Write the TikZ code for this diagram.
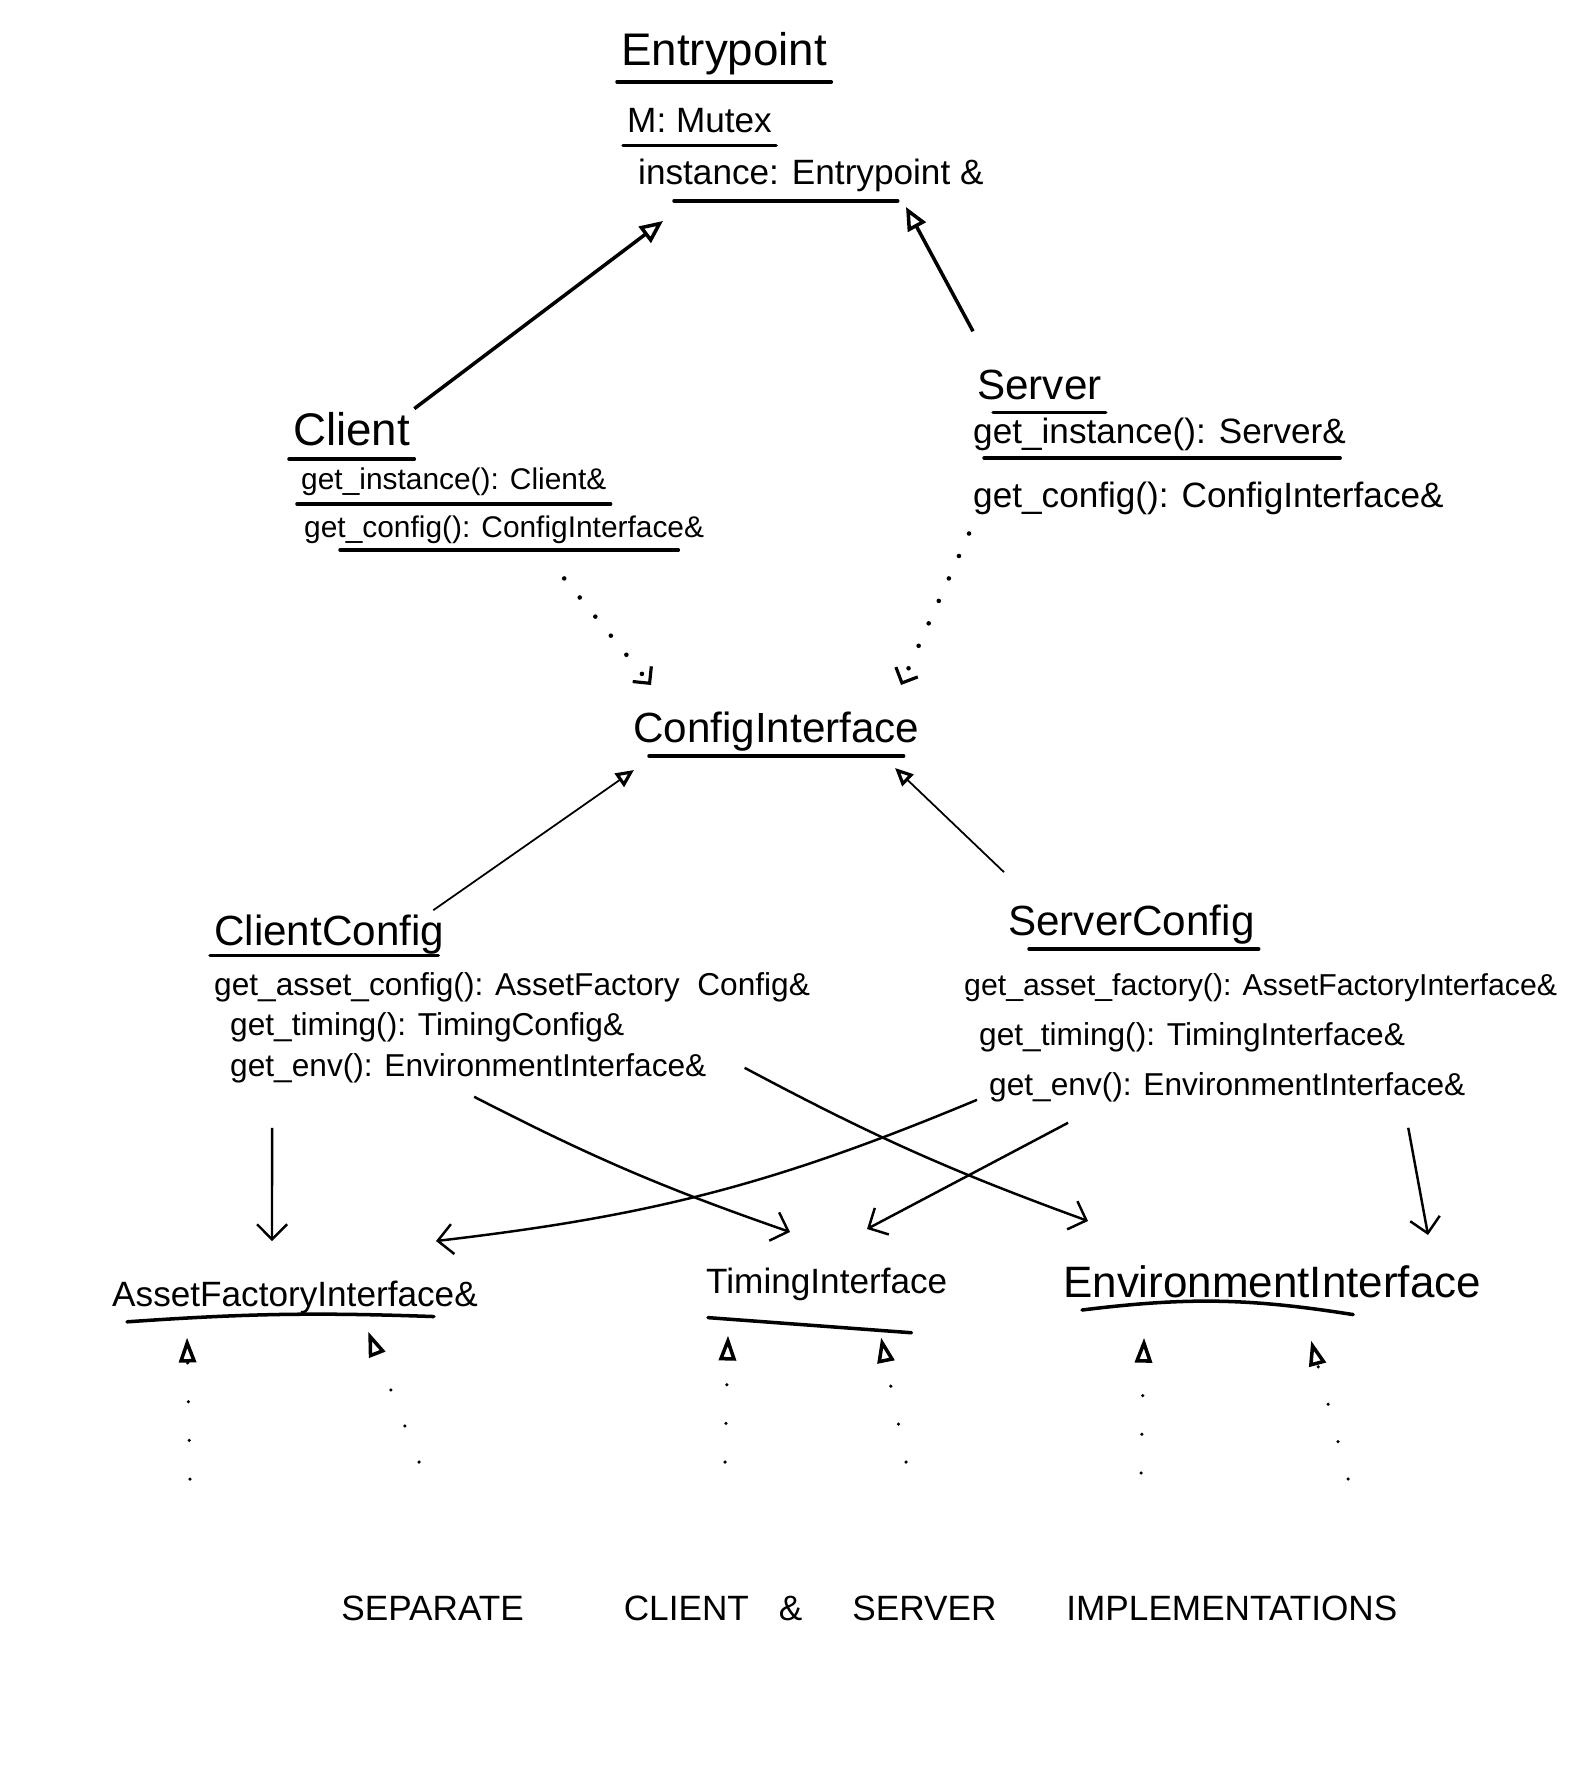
\documentclass[tikz,border=0pt]{standalone}
\usepackage{fontspec}
\setmainfont{Liberation Sans}
\usetikzlibrary{arrows.meta}

\begin{document}
\begin{tikzpicture}[
    x=0.01cm, y=-0.01cm,
    classname/.style={anchor=base west, inner sep=1pt, font=\fontsize{12}{14}\selectfont},
    member/.style={anchor=base west, inner sep=1pt, font=\fontsize{9}{11}\selectfont},
    uline/.style={line width=1pt, line cap=round},
    inherit/.style={-{Triangle[open, length=2.3mm, width=2mm, line width=1pt]}, line width=1pt},
    thininherit/.style={-{Triangle[open, length=1.8mm, width=1.6mm, line width=0.9pt]}, line width=0.5pt},
    uses/.style={-{Straight Barb[length=1.5mm, width=3mm]}, line width=0.7pt},
    depends/.style={-{Straight Barb[length=1.2mm, width=2.4mm, line width=0.9pt]}, line width=1.3pt, line cap=round, dash pattern=on 0pt off 7pt},
    realize/.style={-{Triangle[length=2.5mm, width=1.7mm, line width=1pt, fill=white]}, line width=1pt, line cap=round, dash pattern=on 0pt off 11pt}
]
\useasboundingbox (0,0) rectangle (1576,1777);

% Entrypoint
\node[classname, font=\fontsize{13}{15}\selectfont] (entry) at (617,66) {Entrypoint};
\node[member, font=\fontsize{10}{12}\selectfont] (mutex) at (623,133) {M: Mutex};
\node[member, font=\fontsize{10}{12}\selectfont] (inst) at (634,185) {instance: Entrypoint \&};
\draw[uline] ([yshift=-4.5pt]entry.base west) -- ([yshift=-4.5pt]entry.base east);
\draw[uline] ([yshift=-3.5pt]mutex.base west) -- ([yshift=-3.5pt]mutex.base east);
\draw[uline] ([xshift=4mm,yshift=-4.5pt]inst.base west) -- ([xshift=-9mm,yshift=-4.5pt]inst.base east);

% Client and Server
\node[classname, font=\fontsize{13}{15}\selectfont] (client) at (289,446) {Client};
\node[member, font=\fontsize{8.5}{10}\selectfont] (cinst) at (297,490) {get\_instance(): Client\&};
\node[member, font=\fontsize{8.5}{10}\selectfont] (cconf) at (300,538) {get\_config(): ConfigInterface\&};
\draw[uline] ([yshift=-3.7pt]client.base west) -- ([yshift=-3.7pt]client.base east);
\draw[uline] ([yshift=-4pt]cinst.base west) -- ([yshift=-4pt]cinst.base east);
\draw[uline] ([xshift=4mm,yshift=-3.4pt]cconf.base west) -- ([xshift=-3mm,yshift=-3.4pt]cconf.base east);

\node[classname] (server) at (973,400) {Server};
\node[member, font=\fontsize{10}{12}\selectfont] (sinst) at (969,444) {get\_instance(): Server\&};
\node[member, font=\fontsize{10}{12}\selectfont] (sconf) at (969,508) {get\_config(): ConfigInterface\&};
\draw[uline] ([xshift=2mm,yshift=-3.5pt]server.base west) -- ([yshift=-3.5pt]server.base east);
\draw[uline] ([xshift=1.5mm,yshift=-4pt]sinst.base west) -- ([xshift=-1mm,yshift=-4pt]sinst.base east);

\coordinate (epL) at (663,221);
\coordinate (epR) at (906,207);
\draw[inherit] (client.north east) -- (epL);
\draw[inherit] ([yshift=3.5mm]server.north west) -- (epR);

% ConfigInterface
\node[classname] (cfg) at (629,742) {ConfigInterface};
\draw[uline] ([xshift=2mm,yshift=-4pt]cfg.base west) -- ([xshift=-2mm,yshift=-4pt]cfg.base east);

\coordinate (ciL) at (651,685);
\coordinate (ciR) at (901,685);
\draw[depends] ([xshift=6mm,yshift=-3mm]cconf.south) -- (ciL);
\draw[depends] ([yshift=-1.4mm]sconf.south west) -- (ciR);

% ClientConfig and ServerConfig
\node[classname] (ccfg) at (210,945) {ClientConfig};
\node[member] (casset) at (210,995) {get\_asset\_config(): AssetFactory\ \ Config\&};
\node[member] (ctiming) at (226,1035) {get\_timing(): TimingConfig\&};
\node[member] (cenv) at (226,1076) {get\_env(): EnvironmentInterface\&};
\draw[uline] ([yshift=-3pt]ccfg.base west) -- ([xshift=-1mm,yshift=-3pt]ccfg.base east);

\node[classname] (scfg) at (1004,935) {ServerConfig};
\node[member, font=\fontsize{8.6}{10}\selectfont] (sasset) at (960,995) {get\_asset\_factory(): AssetFactoryInterface\&};
\node[member] (stiming) at (975,1045) {get\_timing(): TimingInterface\&};
\node[member] (senv) at (985,1095) {get\_env(): EnvironmentInterface\&};
\draw[uline] ([xshift=2.5mm,yshift=-4pt]scfg.base west) -- ([yshift=-4pt]scfg.base east);

\coordinate (ciTL) at (634,770);
\coordinate (ciTR) at (895,768);
\draw[thininherit] ([xshift=-1.5mm]ccfg.north east) -- (ciTL);
\draw[thininherit] ([yshift=2.8mm]scfg.north west) -- (ciTR);

% interfaces
\node[classname, font=\fontsize{10}{12}\selectfont] (afi) at (108,1306) {AssetFactoryInterface\&};
\node[classname, font=\fontsize{10}{12}\selectfont] (timi) at (702,1293) {TimingInterface};
\node[classname, font=\fontsize{12.5}{14}\selectfont] (envi) at (1059,1297) {EnvironmentInterface};
\draw[uline] ([xshift=1.9mm,yshift=-4.5pt]afi.base west) to[bend left=3] ([xshift=-4.8mm,yshift=-3pt]afi.base east);
\draw[uline] ([xshift=0.6mm,yshift=-7pt]timi.base west) -- ([xshift=-4mm,yshift=-11.3pt]timi.base east);
\draw[uline] ([xshift=2.3mm,yshift=-3.7pt]envi.base west) to[bend left=8] ([xshift=-13.2mm,yshift=-5pt]envi.base east);

\coordinate (afA) at (272,1241);
\coordinate (afB) at (436,1241);
\coordinate (tiA) at (790,1232);
\coordinate (tiB) at (867,1229);
\coordinate (evA) at (1088,1221);
\coordinate (evB) at (1428,1235);
\draw[uses] ([xshift=4.6mm,yshift=-4.1mm]cenv.south west) -- (afA);
\draw[uses] ([xshift=24.8mm,yshift=-1mm]cenv.south west) to[bend right=4] (tiA);
\draw[uses] ([xshift=3.4mm]cenv.east) to[bend right=4] (evA);
\draw[uses] ([xshift=-0.8mm,yshift=-1.3mm]senv.west) to[bend left=8] (afB);
\draw[uses] ([xshift=8.3mm,yshift=-1.7mm]senv.south west) -- (tiB);
\draw[uses] ([xshift=42.3mm,yshift=-2.2mm]senv.south west) -- (evB);

% implementations below
\coordinate (afF1) at (190,1479);
\coordinate (afF2) at (419,1462);
\coordinate (tiF1) at (725,1462);
\coordinate (tiF2) at (906,1462);
\coordinate (evF1) at (1141,1473);
\coordinate (evF2) at (1348,1479);
\draw[realize] (afF1) -- ([xshift=7.9mm,yshift=-2mm]afi.south west);
\draw[realize] (afF2) -- ([xshift=26mm,yshift=-1.4mm]afi.south west);
\draw[realize] (tiF1) -- ([xshift=2.6mm,yshift=-3.1mm]timi.south west);
\draw[realize] (tiF2) -- ([xshift=17.9mm,yshift=-3.3mm]timi.south west);
\draw[realize] (evF1) -- ([xshift=8.5mm,yshift=-3.6mm]envi.south west);
\draw[realize] (evF2) -- ([xshift=25.2mm,yshift=-3.9mm]envi.south west);

\node[anchor=base west, font=\fontsize{10}{12}\selectfont] (caption) at (329,1620)
    {SEPARATE\hspace{10mm}CLIENT\hspace{3mm}\&\hspace{5mm}SERVER\hspace{7mm}IMPLEMENTATIONS};
\end{tikzpicture}
\end{document}
